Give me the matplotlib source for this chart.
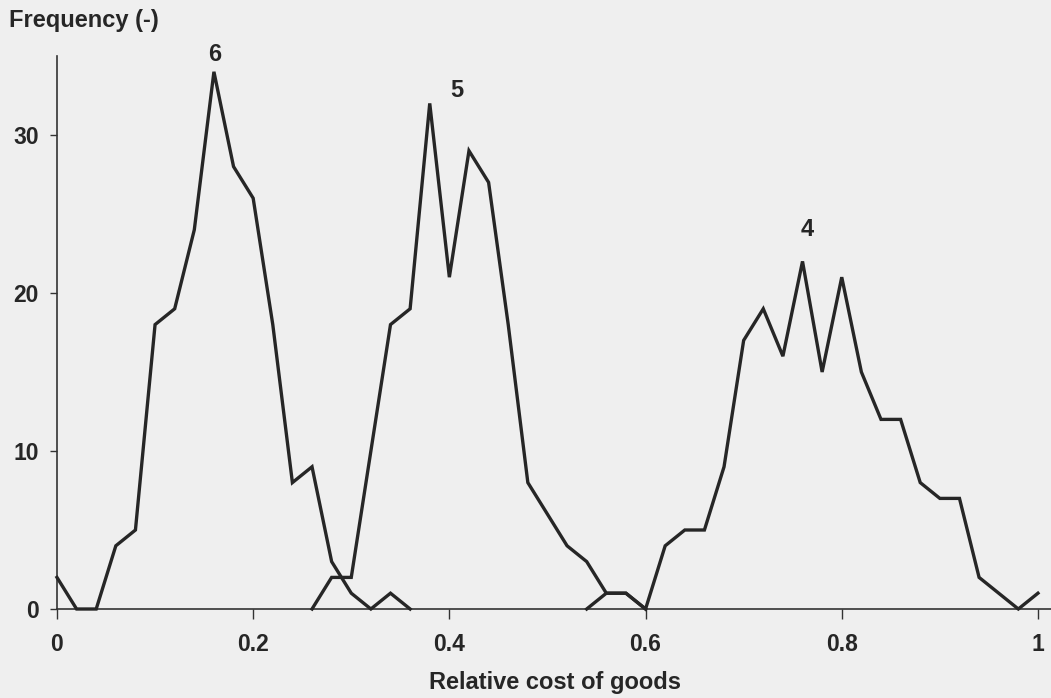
import numpy as np
import matplotlib
matplotlib.use('Agg')
import matplotlib.pyplot as plt

plt.rcParams['font.family'] = ['Liberation Sans', 'DejaVu Sans']
plt.rcParams['font.weight'] = 'bold'

# frequency of relative cost of goods, bins of 0.02, one curve per number of components
x_6 = np.arange(0.0, 0.3601, 0.02)
freq_6 = [2, 0, 0, 4, 5, 18, 19, 24, 34, 28, 26, 18, 8, 9, 3, 1, 0, 1, 0]

x_5 = np.arange(0.26, 0.6001, 0.02)
freq_5 = [0, 2, 2, 10, 18, 19, 32, 21, 29, 27, 18, 8, 6, 4, 3, 1, 1, 0]

x_4 = np.arange(0.54, 1.0001, 0.02)
freq_4 = [0, 1, 1, 0, 4, 5, 5, 9, 17, 19, 16, 22, 15, 21, 15, 12, 12, 8, 7, 7, 2, 1, 0, 1]

peak_labels = ['6', '5', '4']
peak_pos = [(0.161, 35.1), (0.408, 32.8), (0.765, 24.0)]

xticks = [0, 0.2, 0.4, 0.6, 0.8, 1]
xtick_labels = ['0', '0.2', '0.4', '0.6', '0.8', '1']
yticks = [0, 10, 20, 30]

bg = '#efefef'
ink = '#262626'

fig = plt.figure(figsize=(10.51, 6.98), dpi=100, facecolor=bg)
ax = fig.add_axes([0.0542, 0.1275, 0.9458, 0.7923])
ax.set_facecolor(bg)

for xs, ys in [(x_6, freq_6), (x_5, freq_5), (x_4, freq_4)]:
    ax.plot(xs, ys, color=ink, lw=2.4, solid_joinstyle='miter', clip_on=False, zorder=3)

for lab, (px, py) in zip(peak_labels, peak_pos):
    ax.text(px, py, lab, ha='center', va='center', fontsize=17, fontweight='bold', color=ink)

ax.set_xlim(0, 1.0133)
ax.set_ylim(0, 35)
ax.spines['top'].set_visible(False)
ax.spines['right'].set_visible(False)
for s in ['left', 'bottom']:
    ax.spines[s].set_color('#333333')
    ax.spines[s].set_linewidth(1.2)

ax.set_xticks(xticks)
ax.set_xticklabels(xtick_labels)
ax.set_yticks(yticks)
ax.tick_params(axis='x', direction='out', length=7, width=1, pad=10, labelsize=16.5, colors='#333333')
ax.tick_params(axis='y', direction='out', length=5, width=1, pad=8, labelsize=16.5, colors='#333333')
for t in ax.get_xticklabels() + ax.get_yticklabels():
    t.set_fontweight('bold')
    t.set_color(ink)

fig.text(0.009, 0.970, 'Frequency (-)', ha='left', va='center', fontsize=17, fontweight='bold', color=ink)
fig.text(0.528, 0.022, 'Relative cost of goods', ha='center', va='center', fontsize=17,
         fontweight='bold', color=ink)

fig.savefig('out.png', dpi=100, facecolor=bg)
